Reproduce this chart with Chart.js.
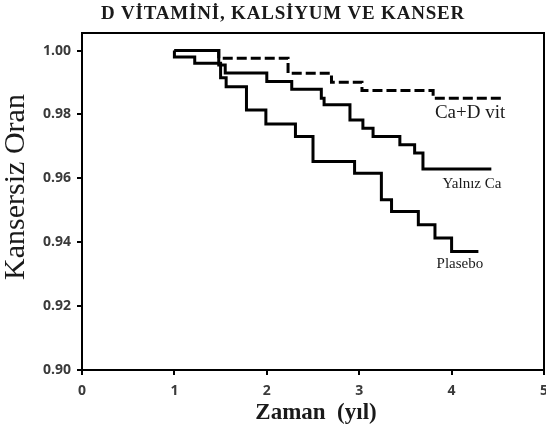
<!DOCTYPE html>
<html>
<head>
<meta charset="utf-8">
<script src="https://cdn.jsdelivr.net/npm/chart.js@4"></script>
<style>
  html, body { margin: 0; padding: 0; background: #fff; }
  #wrap { width: 546px; height: 428px; }
</style>
</head>
<body>
<div id="wrap"><canvas id="kmChart" width="546" height="428"></canvas></div>
<script>
// eksen işaretleri
const timeTicks = [0, 1, 2, 3, 4, 5];
const rateTicks = [0.90, 0.92, 0.94, 0.96, 0.98, 1.00];

// Ca+D vit (kesikli çizgi)
const caDTimes = [1.00, 1.48, 2.23, 2.70, 3.03, 3.80, 4.56];
const caDRates = [1.000, 0.9976, 0.9929, 0.9901, 0.9875, 0.9851, 0.9851];

// Yalnız Ca
const caTimes = [1.00, 1.48, 1.55, 2.00, 2.27, 2.59, 2.62, 2.90, 3.04, 3.15, 3.44, 3.60, 3.69, 4.43];
const caRates = [1.000, 0.9955, 0.9930, 0.9903, 0.9879, 0.9851, 0.9830, 0.9783, 0.9757, 0.9731, 0.9705, 0.9679, 0.9629, 0.9629];

// Plasebo
const plaTimes = [1.00, 1.00, 1.22, 1.50, 1.56, 1.78, 1.99, 2.31, 2.50, 2.95, 3.24, 3.35, 3.64, 3.82, 4.00, 4.29];
const plaRates = [1.000, 0.998, 0.996, 0.9915, 0.9887, 0.9814, 0.9770, 0.9731, 0.9653, 0.9616, 0.9533, 0.9496, 0.9455, 0.9413, 0.9371, 0.9371];

const seriesNames = ['Ca+D vit', 'Yalnız Ca', 'Plasebo'];

function toPoints(times, rates) {
    return times.map((t, i) => ({ x: t, y: rates[i] }));
}

const serif = '"Liberation Serif", "DejaVu Serif", serif';

// başlıklar, çerçeve ve seri etiketleri
const textPlugin = {
    id: 'texts',
    afterDraw(chart) {
        const { ctx, chartArea } = chart;
        const xs = chart.scales.x;
        const ys = chart.scales.y;
        ctx.save();

        // üst ve sağ çerçeve
        ctx.strokeStyle = '#000';
        ctx.lineWidth = 2;
        ctx.beginPath();
        ctx.moveTo(chartArea.left, chartArea.top);
        ctx.lineTo(chartArea.right, chartArea.top);
        ctx.lineTo(chartArea.right, chartArea.bottom);
        ctx.stroke();

        ctx.fillStyle = '#1a1a1a';
        ctx.textAlign = 'center';
        ctx.textBaseline = 'middle';

        ctx.font = 'bold 19px ' + serif;
        ctx.letterSpacing = '0.8px';
        ctx.fillText('D VİTAMİNİ, KALSİYUM VE KANSER', 283, 14);
        ctx.letterSpacing = '0px';

        ctx.font = 'bold 23px ' + serif;
        ctx.fillText('Zaman  (yıl)', 316, 413);

        ctx.save();
        ctx.translate(16, 187);
        ctx.rotate(-Math.PI / 2);
        ctx.font = '30px ' + serif;
        ctx.fillText('Kansersiz Oran', 0, 0);
        ctx.restore();

        // seri etiketleri
        ctx.font = '19px ' + serif;
        ctx.fillText(seriesNames[0], xs.getPixelForValue(4.20), ys.getPixelForValue(0.9806));
        ctx.font = '15px ' + serif;
        ctx.fillText(seriesNames[1], xs.getPixelForValue(4.22), ys.getPixelForValue(0.9582));
        ctx.fillText(seriesNames[2], xs.getPixelForValue(4.09), ys.getPixelForValue(0.9333));

        ctx.restore();
    }
};

const lineStyle = {
    borderColor: '#000',
    borderWidth: 3,
    pointRadius: 0,
    stepped: 'before',
    fill: false
};

new Chart(document.getElementById('kmChart'), {
    type: 'line',
    data: {
        datasets: [
            Object.assign({ label: seriesNames[0], data: toPoints(caDTimes, caDRates), borderDash: [10, 4] }, lineStyle),
            Object.assign({ label: seriesNames[1], data: toPoints(caTimes, caRates) }, lineStyle),
            Object.assign({ label: seriesNames[2], data: toPoints(plaTimes, plaRates) }, lineStyle)
        ]
    },
    options: {
        responsive: false,
        animation: false,
        layout: { padding: { top: 33, right: 2, left: 0, bottom: 0 } },
        plugins: {
            legend: { display: false },
            tooltip: { enabled: false }
        },
        scales: {
            x: {
                type: 'linear',
                min: 0,
                max: 5,
                afterBuildTicks: s => { s.ticks = timeTicks.map(v => ({ value: v })); },
                afterFit: s => { s.height = 58; s.paddingLeft = 0; s.paddingRight = 0; },
                border: { display: true, color: '#000', width: 2 },
                grid: { drawOnChartArea: false, drawTicks: true, tickLength: 5, color: '#000', lineWidth: 2 },
                ticks: {
                    padding: 8,
                    color: '#3a3a3a',
                    font: { family: 'Open Sans', size: 14, weight: 'bold' },
                    callback: v => String(v),
                    maxRotation: 0
                }
            },
            y: {
                min: 0.90,
                max: 1.0055,
                afterBuildTicks: s => { s.ticks = rateTicks.map(v => ({ value: v })); },
                afterFit: s => { s.width = 82; s.paddingTop = 0; s.paddingBottom = 0; },
                border: { display: true, color: '#000', width: 2 },
                grid: { drawOnChartArea: false, drawTicks: true, tickLength: 5, color: '#000', lineWidth: 2 },
                ticks: {
                    padding: 6,
                    color: '#3a3a3a',
                    font: { family: 'Open Sans', size: 14, weight: 'bold' },
                    callback: v => v.toFixed(2)
                }
            }
        }
    },
    plugins: [textPlugin]
});
</script>
</body>
</html>
